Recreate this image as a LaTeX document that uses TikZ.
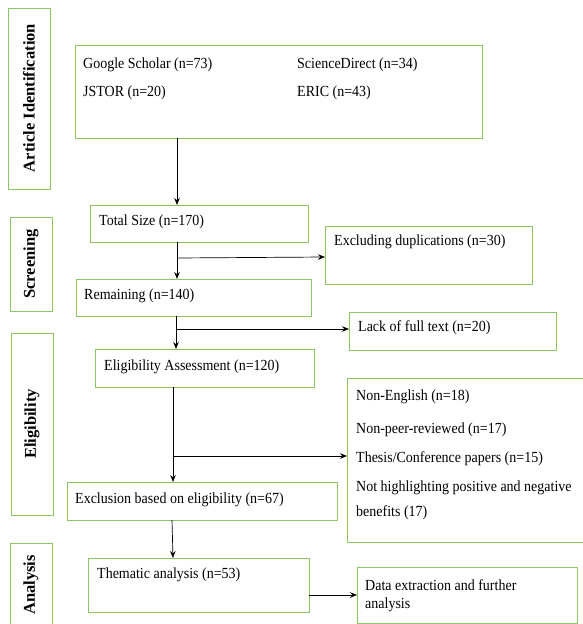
\documentclass[tikz,border=0pt]{standalone}
\usepackage{graphicx}
\usepackage{fontspec}
\setmainfont{Liberation Serif}
\usetikzlibrary{arrows.meta,calc}
\definecolor{boxgreen}{RGB}{140,198,100}
\newcommand{\vstr}[1]{\scalebox{1}[1.1]{#1}}
\tikzset{
  gbox/.style={draw=boxgreen, line width=1pt},
  txt/.style={anchor=west, inner sep=0pt, font=\fontsize{14}{16}\selectfont},
  side/.style={inner sep=0pt, rotate=90, font=\fontsize{16.5}{18}\selectfont\bfseries},
  arr/.style={draw=black, line width=0.7pt, -{Stealth[length=7pt,width=5.5pt]}}
}
\begin{document}
\begin{tikzpicture}[x=1pt,y=-1pt]
\useasboundingbox (0,0) rectangle (582,624);
% side boxes
\draw[gbox] (8,8) rectangle (50,189);
\node[side] (sAI) at (29,98) {Article Identification};
\draw[gbox] (10,217) rectangle (52,311);
\node[side] (sSc) at (31,264) {Screening};
\draw[gbox] (11,333) rectangle (53,515);
\node[side] (sEl) at (32,424) {Eligibility};
\draw[gbox] (10,543) rectangle (52,640);
\node[side] (sAn) at (31,585) {Analysis};
% main boxes
\draw[gbox] (75,45) rectangle (482,138);
\node[txt] (t1) at (83,65) {\vstr{Google Scholar (n=73)}};
\node[txt] (t2) at (297,65) {\vstr{ScienceDirect (n=34)}};
\node[txt] (t3) at (83,93) {\vstr{JSTOR (n=20)}};
\node[txt] (t4) at (297,93) {\vstr{ERIC (n=43)}};
\draw[gbox] (90,205) rectangle (308,242);
\node[txt] (total) at (99,222) {\vstr{Total Size (n=170)}};
\draw[gbox] (325,226) rectangle (532,284);
\node[txt] (excl) at (334,242) {\vstr{Excluding duplications (n=30)}};
\draw[gbox] (76,279) rectangle (311,316);
\node[txt] (remain) at (84,296) {\vstr{Remaining (n=140)}};
\draw[gbox] (349,312) rectangle (556,350);
\node[txt] (lack) at (358,328) {\vstr{Lack of full text (n=20)}};
\draw[gbox] (95,349) rectangle (314,387);
\node[txt] (elig) at (104,367) {\vstr{Eligibility Assessment (n=120)}};
\draw[gbox] (347,378) rectangle (595,542);
\node[txt] (l1) at (356,397) {\vstr{Non-English (n=18)}};
\node[txt] (l2) at (356,430) {\vstr{Non-peer-reviewed (n=17)}};
\node[txt] (l3) at (356,459) {\vstr{Thesis/Conference papers (n=15)}};
\node[txt] (l4) at (356,488) {\vstr{Not highlighting positive and negative}};
\node[txt] (l5) at (356,513) {\vstr{benefits (17)}};
\draw[gbox] (67,482) rectangle (337,520);
\node[txt] (ex67) at (75,500) {\vstr{Exclusion based on eligibility (n=67)}};
\draw[gbox] (88,558) rectangle (309,612);
\node[txt] (them) at (97,575) {\vstr{Thematic analysis (n=53)}};
\draw[gbox] (357,567) rectangle (577,623);
\node[txt] (d1) at (365,585) {\vstr{Data extraction and further}};
\node[txt] (d2) at (365,605) {\vstr{analysis}};
% connector anchor points
\coordinate (a0) at (177,138); \coordinate (a1) at (177,205);
\coordinate (b0) at (177,242); \coordinate (b1) at (177,279); \coordinate (bj) at (177,258); \coordinate (be) at (325,257);
\coordinate (c0) at (176,316); \coordinate (c1) at (176,349); \coordinate (cj) at (176,329); \coordinate (ce) at (349,329);
\coordinate (e0) at (173,387); \coordinate (e1) at (173,482); \coordinate (ej) at (173,456); \coordinate (ee) at (347,456);
\coordinate (f0) at (172,520); \coordinate (f1) at (173,558);
\coordinate (g0) at (309,595); \coordinate (g1) at (357,595);
\draw[arr] (a0) -- (a1);
\draw[arr] (b0) -- (b1);
\draw[arr] (bj) -- (be);
\draw[arr] (c0) -- (c1);
\draw[arr] (cj) -- (ce);
\draw[arr] (e0) -- (e1);
\draw[arr] (ej) -- (ee);
\draw[arr] (f0) -- (f1);
\draw[arr] (g0) -- (g1);
\end{tikzpicture}
\end{document}
